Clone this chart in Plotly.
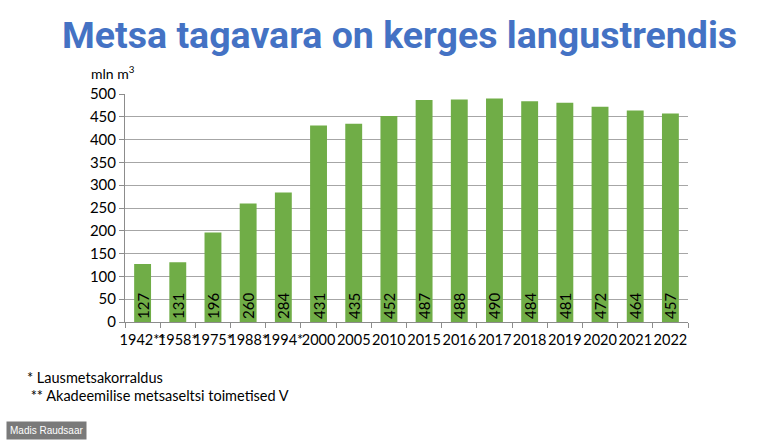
import plotly.graph_objects as go

categories = ["1942**", "1958*", "1975*", "1988*", "1994*", "2000", "2005", "2010",
              "2015", "2016", "2017", "2018", "2019", "2020", "2021", "2022"]
values = [127, 131, 196, 260, 284, 431, 435, 452, 487, 488, 490, 484, 481, 472, 464, 457]
y_ticks = [0, 50, 100, 150, 200, 250, 300, 350, 400, 450, 500]

fig = go.Figure()
fig.add_trace(go.Bar(
    x=categories, y=values,
    marker=dict(color="#70AD47", line=dict(width=0)),
    text=[str(v) for v in values],
    textposition="inside", insidetextanchor="start",
    textangle=-90,
    textfont=dict(family="Lato, sans-serif", size=15, color="#000000"),
    width=0.48,
))

fig.update_layout(
    width=768, height=445,
    margin=dict(l=125, r=80, t=94, b=123),
    paper_bgcolor="white", plot_bgcolor="white",
    showlegend=False,
    font=dict(family="Lato, sans-serif", size=15, color="#000000"),
    uniformtext=dict(mode="show", minsize=15),
)
fig.update_xaxes(
    type="category", tickson="boundaries", ticks="outside", ticklen=5,
    tickcolor="#8c8c8c", showline=True, linecolor="#8c8c8c", linewidth=1,
    tickfont=dict(size=14.5), tickangle=0, showgrid=False, ticklabelstandoff=5,
)
fig.update_yaxes(
    range=[0, 500], tickvals=y_ticks, ticks="outside", ticklen=5,
    tickcolor="#8c8c8c", showline=True, linecolor="#8c8c8c", linewidth=1,
    showgrid=True, gridcolor="#a6a6a6", gridwidth=1, zeroline=False,
    tickfont=dict(size=15),
)

fig.add_annotation(
    text="<b>Metsa tagavara on kerges langustrendis</b>",
    xref="paper", yref="paper", x=0.5, y=1, xanchor="center", yanchor="middle",
    xshift=-7, yshift=59,
    showarrow=False,
    font=dict(family="Roboto, sans-serif", size=37.5, color="#4472C4"),
)
fig.add_annotation(
    text="mln m<sup>3</sup>", xref="paper", yref="paper", x=0, y=1,
    xanchor="right", yanchor="bottom", xshift=12, yshift=10, showarrow=False,
    font=dict(size=14),
)
fig.add_annotation(
    text="* Lausmetsakorraldus", xref="paper", yref="paper", x=0, y=0,
    xanchor="left", yanchor="middle", xshift=-100, yshift=-55, showarrow=False,
    font=dict(size=14.5),
)
fig.add_annotation(
    text=" ** Akadeemilise metsaseltsi toimetised V", xref="paper", yref="paper", x=0, y=0,
    xanchor="left", yanchor="middle", xshift=-100, yshift=-73, showarrow=False,
    font=dict(size=14.5),
)
fig.add_annotation(
    text="Madis Raudsaar", xref="paper", yref="paper", x=0, y=0,
    xanchor="left", yanchor="middle", xshift=-119, yshift=-108, showarrow=False,
    font=dict(family="Liberation Sans, Arial, sans-serif", size=10, color="white"),
    bgcolor="#7a7a7a", borderpad=3,
)

fig.write_html("out.html")
